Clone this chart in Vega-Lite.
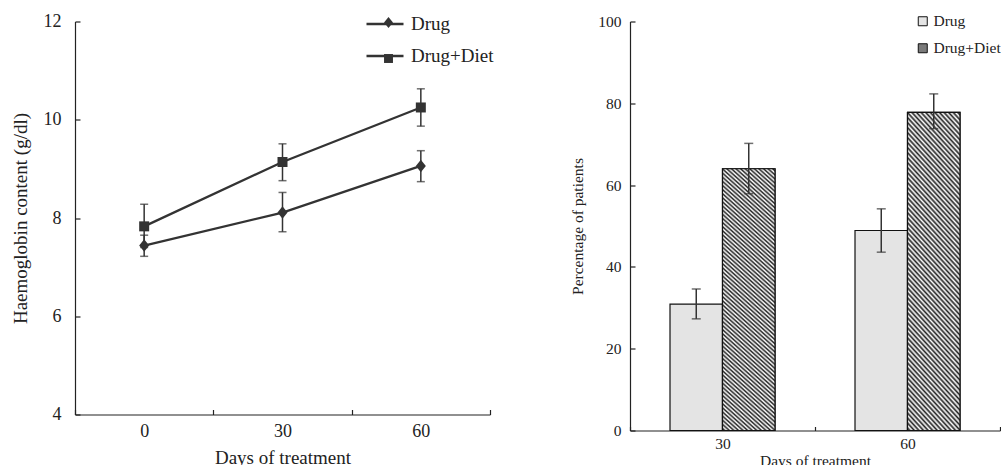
{
  "$schema": "https://vega.github.io/schema/vega-lite/v6.json",
  "padding": {"left": 11, "top": 3.5, "right": 0, "bottom": 0},
  "spacing": 140,
  "bounds": "flush",
  "resolve": {
    "scale": {"color": "independent", "shape": "independent"},
    "legend": {"color": "independent", "shape": "independent"}
  },
  "config": {
    "font": "Liberation Serif",
    "view": {"stroke": null},
    "axis": {
      "grid": false,
      "domainColor": "#222",
      "tickColor": "#222",
      "labelColor": "#222",
      "titleColor": "#222",
      "titleFontWeight": "normal",
      "domainWidth": 1.2,
      "tickWidth": 1.2
    },
    "legend": {"padding": 0, "titleFontWeight": "normal"}
  },
  "hconcat": [
    {
      "width": 415,
      "height": 393,
      "data": {
        "values": [
          {"day": 0, "group": "Drug", "value": 7.44, "lo": 7.22, "hi": 7.65},
          {"day": 30, "group": "Drug", "value": 8.11, "lo": 7.72, "hi": 8.52},
          {"day": 60, "group": "Drug", "value": 9.06, "lo": 8.74, "hi": 9.37},
          {"day": 0, "group": "Drug+Diet", "value": 7.83, "lo": 7.4, "hi": 8.28},
          {"day": 30, "group": "Drug+Diet", "value": 9.14, "lo": 8.76, "hi": 9.51},
          {"day": 60, "group": "Drug+Diet", "value": 10.25, "lo": 9.87, "hi": 10.63}
        ]
      },
      "encoding": {
        "x": {
          "field": "day",
          "type": "ordinal",
          "scale": {"paddingInner": 0, "paddingOuter": 0},
          "axis": {
            "title": "Days of treatment",
            "labelAngle": 0,
            "tickBand": "extent",
            "tickSize": -5,
            "labelFontSize": 18,
            "titleFontSize": 19,
            "labelPadding": 13,
            "titlePadding": 8
          }
        }
      },
      "layer": [
        {
          "mark": {"type": "rule", "color": "#333", "strokeWidth": 1.5},
          "encoding": {
            "y": {
              "field": "lo",
              "type": "quantitative",
              "title": "Haemoglobin content (g/dl)",
              "scale": {"domain": [4, 12], "nice": false, "zero": false},
              "axis": {
                "values": [4, 6, 8, 10, 12],
                "tickSize": -5,
                "labelFontSize": 18,
                "titleFontSize": 19,
                "labelPadding": 19,
                "titlePadding": 13
              }
            },
            "y2": {"field": "hi"}
          }
        },
        {
          "mark": {"type": "tick", "color": "#333", "thickness": 1.5, "size": 8},
          "encoding": {
            "y": {"field": "lo", "type": "quantitative", "title": "Haemoglobin content (g/dl)", "scale": {"domain": [4, 12], "nice": false, "zero": false}}
          }
        },
        {
          "mark": {"type": "tick", "color": "#333", "thickness": 1.5, "size": 8},
          "encoding": {
            "y": {"field": "hi", "type": "quantitative", "title": "Haemoglobin content (g/dl)", "scale": {"domain": [4, 12], "nice": false, "zero": false}}
          }
        },
        {
          "mark": {"type": "line", "strokeWidth": 2.3},
          "encoding": {
            "y": {"field": "value", "type": "quantitative", "title": "Haemoglobin content (g/dl)", "scale": {"domain": [4, 12], "nice": false, "zero": false}},
            "color": {
              "field": "group",
              "type": "nominal",
              "scale": {"range": ["#333", "#333"]},
              "legend": {
                "title": null,
                "orient": "none",
                "legendX": 290,
                "legendY": -17.5,
                "symbolType": "stroke",
                "symbolSize": 1369,
                "symbolStrokeWidth": 2.3,
                "symbolOpacity": 1,
                "labelFontSize": 19,
                "labelColor": "#222",
                "labelOffset": 6,
                "rowPadding": 2
              }
            }
          }
        },
        {
          "mark": {"type": "point", "filled": true, "color": "#333", "opacity": 1, "size": 100},
          "encoding": {
            "y": {"field": "value", "type": "quantitative", "title": "Haemoglobin content (g/dl)", "scale": {"domain": [4, 12], "nice": false, "zero": false}},
            "shape": {
              "field": "group",
              "type": "nominal",
              "scale": {
                "domain": ["Drug", "Drug+Diet"],
                "range": ["M0,-1.25L1,0L0,1.25L-1,0Z", "M-1,-1H1V1H-1Z"]
              },
              "legend": {
                "title": null,
                "orient": "none",
                "legendX": 304,
                "legendY": -8.5,
                "symbolSize": 80,
                "symbolFillColor": "#333",
                "symbolStrokeColor": "#333",
                "symbolOpacity": 1,
                "labelFontSize": 19,
                "labelExpr": "''",
                "labelOffset": 19,
                "rowPadding": 16
              }
            }
          }
        }
      ]
    },
    {
      "width": 370,
      "height": 409,
      "data": {
        "values": [
          {"day": 30, "group": "Drug", "value": 30.9, "lo": 27.3, "hi": 34.6},
          {"day": 30, "group": "Drug+Diet", "value": 64.0, "lo": 57.9, "hi": 70.2},
          {"day": 60, "group": "Drug", "value": 48.9, "lo": 43.6, "hi": 54.2},
          {"day": 60, "group": "Drug+Diet", "value": 77.8, "lo": 73.8, "hi": 82.3}
        ]
      },
      "encoding": {
        "x": {
          "field": "day",
          "type": "ordinal",
          "scale": {"paddingInner": 0, "paddingOuter": 0},
          "axis": {
            "title": "Days of treatment",
            "labelAngle": 0,
            "tickBand": "extent",
            "tickSize": -4,
            "labelFontSize": 15.5,
            "titleFontSize": 15.5,
            "labelPadding": 10,
            "titlePadding": 1
          }
        },
        "xOffset": {
          "field": "group",
          "type": "nominal",
          "sort": ["Drug", "Drug+Diet"],
          "scale": {"paddingInner": 0, "paddingOuter": 0.762}
        }
      },
      "layer": [
        {
          "mark": {"type": "bar", "stroke": "#111", "strokeWidth": 1.2},
          "encoding": {
            "y": {
              "field": "value",
              "type": "quantitative",
              "title": "Percentage of patients",
              "scale": {"domain": [0, 100], "nice": false},
              "axis": {
                "values": [0, 20, 40, 60, 80, 100],
                "tickSize": -5,
                "labelFontSize": 15.5,
                "titleFontSize": 15.5,
                "labelPadding": 14,
                "titlePadding": 12
              }
            },
            "color": {
              "field": "group",
              "type": "nominal",
              "scale": {"domain": ["Drug", "Drug+Diet"], "range": ["#e4e4e4", "#7a7a7a"]},
              "legend": {
                "title": null,
                "orient": "none",
                "legendX": 285,
                "legendY": -8,
                "symbolType": "square",
                "symbolSize": 81,
                "labelFontSize": 15.5,
                "labelColor": "#222",
                "labelOffset": 3,
                "rowPadding": 10,
                "symbolStrokeColor": "#111",
                "symbolStrokeWidth": 1,
                "symbolOpacity": 1
              }
            }
          }
        },
        {
          "transform": [{"filter": "datum.group === 'Drug+Diet'"}],
          "mark": {
            "type": "bar",
            "stroke": "#111",
            "strokeWidth": 1.2,
            "fill": {
              "gradient": "linear",
              "x1": 0, "y1": 1, "x2": 0.206, "y2": -0.143,
              "stops": [
                {"offset": 0, "color": "#fff"}, {"offset": 0.0067, "color": "#222"}, {"offset": 0.0133, "color": "#fff"}, {"offset": 0.02, "color": "#222"}, {"offset": 0.0267, "color": "#fff"}, {"offset": 0.0333, "color": "#222"}, {"offset": 0.04, "color": "#fff"}, {"offset": 0.0467, "color": "#222"}, {"offset": 0.0533, "color": "#fff"}, {"offset": 0.06, "color": "#222"}, {"offset": 0.0667, "color": "#fff"}, {"offset": 0.0733, "color": "#222"}, {"offset": 0.08, "color": "#fff"}, {"offset": 0.0867, "color": "#222"}, {"offset": 0.0933, "color": "#fff"},
                {"offset": 0.1, "color": "#222"}, {"offset": 0.1067, "color": "#fff"}, {"offset": 0.1133, "color": "#222"}, {"offset": 0.12, "color": "#fff"}, {"offset": 0.1267, "color": "#222"}, {"offset": 0.1333, "color": "#fff"}, {"offset": 0.14, "color": "#222"}, {"offset": 0.1467, "color": "#fff"}, {"offset": 0.1533, "color": "#222"}, {"offset": 0.16, "color": "#fff"}, {"offset": 0.1667, "color": "#222"}, {"offset": 0.1733, "color": "#fff"}, {"offset": 0.18, "color": "#222"}, {"offset": 0.1867, "color": "#fff"}, {"offset": 0.1933, "color": "#222"},
                {"offset": 0.2, "color": "#fff"}, {"offset": 0.2067, "color": "#222"}, {"offset": 0.2133, "color": "#fff"}, {"offset": 0.22, "color": "#222"}, {"offset": 0.2267, "color": "#fff"}, {"offset": 0.2333, "color": "#222"}, {"offset": 0.24, "color": "#fff"}, {"offset": 0.2467, "color": "#222"}, {"offset": 0.2533, "color": "#fff"}, {"offset": 0.26, "color": "#222"}, {"offset": 0.2667, "color": "#fff"}, {"offset": 0.2733, "color": "#222"}, {"offset": 0.28, "color": "#fff"}, {"offset": 0.2867, "color": "#222"}, {"offset": 0.2933, "color": "#fff"},
                {"offset": 0.3, "color": "#222"}, {"offset": 0.3067, "color": "#fff"}, {"offset": 0.3133, "color": "#222"}, {"offset": 0.32, "color": "#fff"}, {"offset": 0.3267, "color": "#222"}, {"offset": 0.3333, "color": "#fff"}, {"offset": 0.34, "color": "#222"}, {"offset": 0.3467, "color": "#fff"}, {"offset": 0.3533, "color": "#222"}, {"offset": 0.36, "color": "#fff"}, {"offset": 0.3667, "color": "#222"}, {"offset": 0.3733, "color": "#fff"}, {"offset": 0.38, "color": "#222"}, {"offset": 0.3867, "color": "#fff"}, {"offset": 0.3933, "color": "#222"},
                {"offset": 0.4, "color": "#fff"}, {"offset": 0.4067, "color": "#222"}, {"offset": 0.4133, "color": "#fff"}, {"offset": 0.42, "color": "#222"}, {"offset": 0.4267, "color": "#fff"}, {"offset": 0.4333, "color": "#222"}, {"offset": 0.44, "color": "#fff"}, {"offset": 0.4467, "color": "#222"}, {"offset": 0.4533, "color": "#fff"}, {"offset": 0.46, "color": "#222"}, {"offset": 0.4667, "color": "#fff"}, {"offset": 0.4733, "color": "#222"}, {"offset": 0.48, "color": "#fff"}, {"offset": 0.4867, "color": "#222"}, {"offset": 0.4933, "color": "#fff"},
                {"offset": 0.5, "color": "#222"}, {"offset": 0.5067, "color": "#fff"}, {"offset": 0.5133, "color": "#222"}, {"offset": 0.52, "color": "#fff"}, {"offset": 0.5267, "color": "#222"}, {"offset": 0.5333, "color": "#fff"}, {"offset": 0.54, "color": "#222"}, {"offset": 0.5467, "color": "#fff"}, {"offset": 0.5533, "color": "#222"}, {"offset": 0.56, "color": "#fff"}, {"offset": 0.5667, "color": "#222"}, {"offset": 0.5733, "color": "#fff"}, {"offset": 0.58, "color": "#222"}, {"offset": 0.5867, "color": "#fff"}, {"offset": 0.5933, "color": "#222"},
                {"offset": 0.6, "color": "#fff"}, {"offset": 0.6067, "color": "#222"}, {"offset": 0.6133, "color": "#fff"}, {"offset": 0.62, "color": "#222"}, {"offset": 0.6267, "color": "#fff"}, {"offset": 0.6333, "color": "#222"}, {"offset": 0.64, "color": "#fff"}, {"offset": 0.6467, "color": "#222"}, {"offset": 0.6533, "color": "#fff"}, {"offset": 0.66, "color": "#222"}, {"offset": 0.6667, "color": "#fff"}, {"offset": 0.6733, "color": "#222"}, {"offset": 0.68, "color": "#fff"}, {"offset": 0.6867, "color": "#222"}, {"offset": 0.6933, "color": "#fff"},
                {"offset": 0.7, "color": "#222"}, {"offset": 0.7067, "color": "#fff"}, {"offset": 0.7133, "color": "#222"}, {"offset": 0.72, "color": "#fff"}, {"offset": 0.7267, "color": "#222"}, {"offset": 0.7333, "color": "#fff"}, {"offset": 0.74, "color": "#222"}, {"offset": 0.7467, "color": "#fff"}, {"offset": 0.7533, "color": "#222"}, {"offset": 0.76, "color": "#fff"}, {"offset": 0.7667, "color": "#222"}, {"offset": 0.7733, "color": "#fff"}, {"offset": 0.78, "color": "#222"}, {"offset": 0.7867, "color": "#fff"}, {"offset": 0.7933, "color": "#222"},
                {"offset": 0.8, "color": "#fff"}, {"offset": 0.8067, "color": "#222"}, {"offset": 0.8133, "color": "#fff"}, {"offset": 0.82, "color": "#222"}, {"offset": 0.8267, "color": "#fff"}, {"offset": 0.8333, "color": "#222"}, {"offset": 0.84, "color": "#fff"}, {"offset": 0.8467, "color": "#222"}, {"offset": 0.8533, "color": "#fff"}, {"offset": 0.86, "color": "#222"}, {"offset": 0.8667, "color": "#fff"}, {"offset": 0.8733, "color": "#222"}, {"offset": 0.88, "color": "#fff"}, {"offset": 0.8867, "color": "#222"}, {"offset": 0.8933, "color": "#fff"},
                {"offset": 0.9, "color": "#222"}, {"offset": 0.9067, "color": "#fff"}, {"offset": 0.9133, "color": "#222"}, {"offset": 0.92, "color": "#fff"}, {"offset": 0.9267, "color": "#222"}, {"offset": 0.9333, "color": "#fff"}, {"offset": 0.94, "color": "#222"}, {"offset": 0.9467, "color": "#fff"}, {"offset": 0.9533, "color": "#222"}, {"offset": 0.96, "color": "#fff"}, {"offset": 0.9667, "color": "#222"}, {"offset": 0.9733, "color": "#fff"}, {"offset": 0.98, "color": "#222"}, {"offset": 0.9867, "color": "#fff"}, {"offset": 0.9933, "color": "#222"},
                {"offset": 1, "color": "#fff"}
              ]
            }
          },
          "encoding": {
            "y": {"field": "value", "type": "quantitative", "title": "Percentage of patients", "scale": {"domain": [0, 100], "nice": false}}
          }
        },
        {
          "mark": {"type": "rule", "color": "#333", "strokeWidth": 1.5},
          "encoding": {
            "y": {"field": "lo", "type": "quantitative", "title": "Percentage of patients", "scale": {"domain": [0, 100], "nice": false}},
            "y2": {"field": "hi"}
          }
        },
        {
          "mark": {"type": "tick", "color": "#333", "thickness": 1.5, "size": 9},
          "encoding": {
            "y": {"field": "lo", "type": "quantitative", "title": "Percentage of patients", "scale": {"domain": [0, 100], "nice": false}}
          }
        },
        {
          "mark": {"type": "tick", "color": "#333", "thickness": 1.5, "size": 9},
          "encoding": {
            "y": {"field": "hi", "type": "quantitative", "title": "Percentage of patients", "scale": {"domain": [0, 100], "nice": false}}
          }
        }
      ]
    }
  ]
}
